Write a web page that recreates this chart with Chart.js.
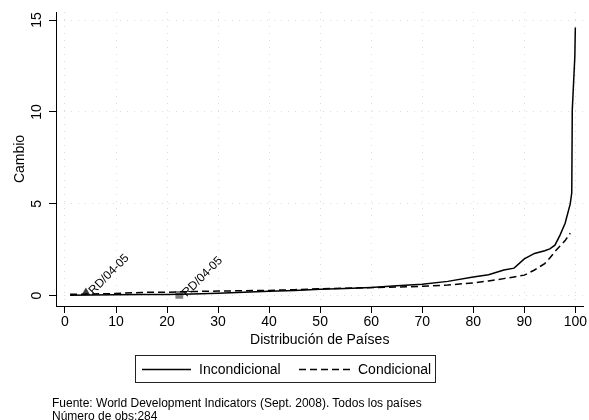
<!DOCTYPE html>
<html>
<head>
<meta charset="utf-8">
<script src="https://cdn.jsdelivr.net/npm/chart.js@4"></script>
<style>
  body { margin: 0; background: #fff; }
  #wrap { position: relative; width: 589px; height: 420px; font-family: "Liberation Sans", Arial, sans-serif; }
  #myChart { position: absolute; left: 0; top: 0; }
  #legend { position: absolute; left: 135px; top: 355px; width: 299px; height: 26px; border: 1px solid #222; }
  #legend svg { position: absolute; left: 0; top: 0; }
  .lg { position: absolute; top: 4px; font-size: 14px; line-height: 18px; color: #000; }
  .note { position: absolute; left: 52px; font-size: 12px; line-height: 13px; color: #000; white-space: nowrap; }
</style>
</head>
<body>
<div id="wrap">
  <canvas id="myChart" width="589" height="420"></canvas>
  <div id="legend">
    <svg width="299" height="26">
      <line x1="6" y1="13.5" x2="55" y2="13.5" stroke="#000" stroke-width="1.5"/>
      <line x1="163" y1="13.5" x2="214" y2="13.5" stroke="#000" stroke-width="1.5" stroke-dasharray="7,4"/>
    </svg>
    <span class="lg" style="left:63px">Incondicional</span>
    <span class="lg" style="left:222px">Condicional</span>
  </div>
  <div class="note" style="top:397px">Fuente: World Development Indicators (Sept. 2008). Todos los países</div>
  <div class="note" style="top:410px">Número de obs:284</div>
</div>
<script>
// percentil de países (eje x) y cambio (eje y)
const incX = [1, 5, 10, 15, 20, 25, 30, 35, 40, 45, 50, 55, 60, 65, 70, 75, 80, 83, 86, 88, 90, 92, 94, 95, 96, 97, 98, 99, 99.3, 99.4, 99.9, 100];
const incY = [0.03, 0.04, 0.05, 0.06, 0.07, 0.09, 0.13, 0.19, 0.24, 0.29, 0.35, 0.39, 0.45, 0.54, 0.63, 0.78, 1.02, 1.14, 1.4, 1.5, 2.0, 2.3, 2.45, 2.55, 2.75, 3.3, 3.94, 5.0, 5.6, 10.1, 13.0, 14.6];

const condX = [1, 5, 10, 15, 20, 25, 30, 35, 40, 45, 50, 55, 60, 65, 70, 75, 80, 83, 86, 88, 90, 92, 94, 95, 96, 97, 98, 99];
const condY = [0.08, 0.09, 0.12, 0.18, 0.19, 0.23, 0.25, 0.27, 0.29, 0.33, 0.38, 0.41, 0.44, 0.47, 0.51, 0.58, 0.7, 0.8, 0.93, 1.02, 1.12, 1.4, 1.75, 2.05, 2.4, 2.7, 3.0, 3.4];

const markX = [4.1, 22.4];
const markY = [0.17, 0.04];
const markLabels = ['RD/04-05', 'RD/04-05'];

const xTicks = [0, 10, 20, 30, 40, 50, 60, 70, 80, 90, 100];
const yTicks = [0, 5, 10, 15];

const font = '"Liberation Sans", Arial, sans-serif';

function toPoints(xs, ys) {
    return xs.map((x, i) => ({ x: x, y: ys[i] }));
}

// etiquetas del eje y giradas (estilo Stata) y etiquetas de los marcadores
const drawTexts = {
    id: 'drawTexts',
    afterDraw(chart) {
        const ctx = chart.ctx;
        const y = chart.scales.y;
        ctx.save();
        ctx.fillStyle = '#000';
        ctx.font = '14px ' + font;
        ctx.textAlign = 'center';
        ctx.textBaseline = 'middle';
        yTicks.forEach(v => {
            ctx.save();
            ctx.translate(37, y.getPixelForValue(v));
            ctx.rotate(-Math.PI / 2);
            ctx.fillText(String(v), 0, 0);
            ctx.restore();
        });
        const meta = chart.getDatasetMeta(2);
        ctx.font = '12px ' + font;
        ctx.textAlign = 'left';
        meta.data.forEach((pt, i) => {
            ctx.save();
            ctx.translate(pt.x + 5, pt.y);
            ctx.rotate(-Math.PI / 4);
            ctx.fillText(markLabels[i], 0, 0);
            ctx.restore();
        });
        ctx.restore();
    }
};

const ctx = document.getElementById('myChart').getContext('2d');
const myChart = new Chart(ctx, {
    type: 'line',
    data: {
        datasets: [{
            label: 'Incondicional',
            data: toPoints(incX, incY),
            borderColor: '#000',
            borderWidth: 1.5,
            pointRadius: 0,
            tension: 0,
            fill: false
        }, {
            label: 'Condicional',
            data: toPoints(condX, condY),
            borderColor: '#000',
            borderWidth: 1.5,
            borderDash: [7, 4],
            pointRadius: 0,
            tension: 0,
            fill: false
        }, {
            label: 'RD',
            data: toPoints(markX, markY),
            showLine: false,
            pointStyle: ['triangle', 'rect'],
            pointRadius: [5, 5.5],
            pointBackgroundColor: ['#3c3c3c', '#7f7f7f'],
            pointBorderColor: ['#3c3c3c', '#7f7f7f'],
            pointBorderWidth: 0
        }]
    },
    options: {
        responsive: false,
        animation: false,
        devicePixelRatio: 1,
        layout: { padding: { left: 0, right: 4, top: 12, bottom: 70 } },
        plugins: {
            legend: { display: false },
            tooltip: { enabled: false }
        },
        scales: {
            x: {
                type: 'linear',
                min: -1.76,
                max: 101.6,
                afterBuildTicks: s => { s.ticks = xTicks.map(v => ({ value: v })); },
                afterFit: s => { s.height = 44; s.paddingLeft = 0; s.paddingRight = 0; },
                ticks: { color: '#000', font: { family: font, size: 14 }, padding: 1, maxRotation: 0 },
                grid: { color: '#dcdcdc', tickColor: '#000', tickLength: 7, tickWidth: 1 },
                border: { color: '#000', width: 1, dash: [1, 6] },
                title: { display: true, text: 'Distribución de Países', color: '#000', font: { family: font, size: 14, lineHeight: 1.2 }, padding: { top: 0, bottom: 1 } }
            },
            y: {
                min: -0.56,
                max: 15.44,
                afterBuildTicks: s => { s.ticks = yTicks.map(v => ({ value: v })); },
                afterFit: s => { s.width = 56; s.paddingTop = 0; s.paddingBottom = 0; },
                ticks: { display: false },
                grid: { color: '#dcdcdc', tickColor: '#000', tickLength: 7, tickWidth: 1 },
                border: { color: '#000', width: 1, dash: [1, 6] },
                title: { display: true, text: 'Cambio', color: '#000', font: { family: font, size: 14, lineHeight: 1.2 }, padding: { top: 12, bottom: 0 } }
            }
        }
    },
    plugins: [drawTexts]
});
</script>
</body>
</html>
